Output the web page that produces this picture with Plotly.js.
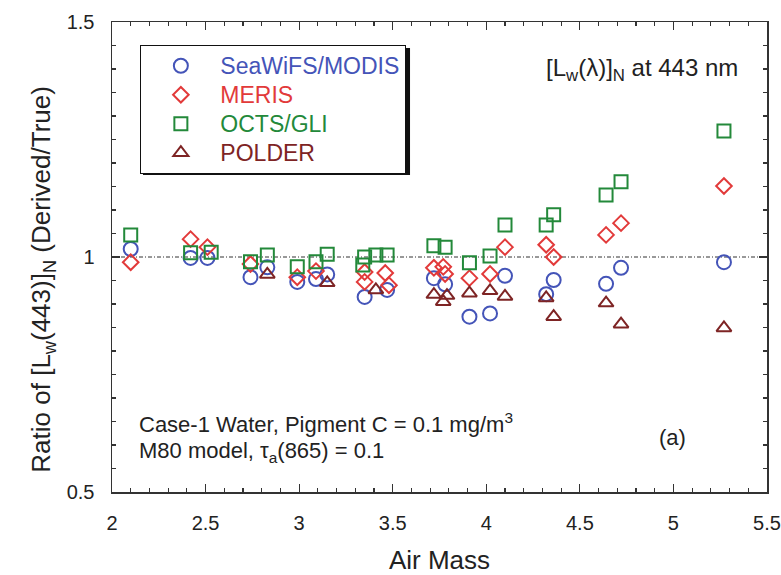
<!DOCTYPE html>
<html>
<head>
<meta charset="utf-8">
<script src="https://cdn.plot.ly/plotly-3.0.1.min.js"></script>
<style>body{margin:0;background:#fff;}#chart{width:781px;height:575px;}</style>
</head>
<body>
<div id="chart"></div>
<script>
// SeaWiFS/MODIS (blue circles)
const seawifsX = [2.10, 2.42, 2.51, 2.74, 2.83, 2.99, 3.09, 3.15, 3.35, 3.47, 3.72, 3.78, 3.91, 4.02, 4.10, 4.32, 4.36, 4.64, 4.72, 5.27];
const seawifsY = [1.017, 0.998, 0.998, 0.957, 0.978, 0.947, 0.953, 0.963, 0.915, 0.930, 0.955, 0.942, 0.873, 0.880, 0.960, 0.921, 0.951, 0.943, 0.977, 0.989];
// MERIS (red diamonds)
const merisX = [2.10, 2.42, 2.51, 2.74, 2.99, 3.09, 3.35, 3.35, 3.46, 3.48, 3.72, 3.77, 3.78, 3.91, 4.02, 4.10, 4.32, 4.36, 4.64, 4.72, 5.27];
const merisY = [0.989, 1.038, 1.021, 0.985, 0.957, 0.970, 0.968, 0.947, 0.966, 0.940, 0.977, 0.979, 0.964, 0.955, 0.964, 1.021, 1.026, 1.000, 1.047, 1.072, 1.151];
// OCTS/GLI (green squares)
const octsX = [2.10, 2.42, 2.53, 2.74, 2.83, 2.99, 3.09, 3.15, 3.34, 3.35, 3.41, 3.47, 3.72, 3.78, 3.91, 4.02, 4.10, 4.32, 4.36, 4.64, 4.72, 5.27];
const octsY = [1.047, 1.009, 1.010, 0.990, 1.004, 0.979, 0.990, 1.006, 0.983, 1.000, 1.004, 1.004, 1.024, 1.021, 0.988, 1.002, 1.068, 1.068, 1.090, 1.132, 1.160, 1.268];
// POLDER (brown triangles)
const polderX = [2.83, 3.15, 3.41, 3.72, 3.77, 3.79, 3.91, 4.02, 4.10, 4.32, 4.36, 4.64, 4.72, 5.27];
const polderY = [0.963, 0.945, 0.930, 0.920, 0.905, 0.918, 0.923, 0.928, 0.916, 0.913, 0.873, 0.902, 0.857, 0.849];

const names = ['SeaWiFS/MODIS', 'MERIS', 'OCTS/GLI', 'POLDER'];
const colors = ['#4454b8', '#e23a3a', '#23893a', '#7e2424'];
const xTicks = [2, 2.5, 3, 3.5, 4, 4.5, 5, 5.5];
const yTicks = [0.5, 1, 1.5];

const FONT = 'Liberation Sans, Arial, sans-serif';

function tr(x, y, i, symbol, size) {
  return {
    x: x, y: y, type: 'scatter', mode: 'markers',
    name: '<span style="color:' + colors[i] + ';font-size:23px">' + names[i] + '</span>',
    legendgroup: 'g' + i,
    marker: {symbol: symbol, size: size, color: colors[i], line: {color: colors[i], width: 2}}
  };
}

const data = [
  tr(seawifsX, seawifsY, 0, 'circle-open', 14),
  tr(merisX, merisY, 1, 'diamond-open', 12),
  tr(octsX, octsY, 2, 'square-open', 13),
  tr(polderX, polderY, 3, 'triangle-up-open', 13)
];

const axisCommon = {
  showline: true, linecolor: '#333', linewidth: 1.5, mirror: 'allticks',
  ticks: 'inside', ticklen: 8, tickwidth: 1.2, tickcolor: '#333',
  showgrid: false, zeroline: false,
  tickfont: {family: FONT, size: 20, color: '#222'}
};

const layout = {
  width: 781, height: 575,
  margin: {l: 112, r: 14, t: 22, b: 83},
  paper_bgcolor: '#fff', plot_bgcolor: '#fff',
  font: {family: FONT, color: '#222'},
  xaxis: Object.assign({}, axisCommon, {
    range: [2, 5.5], tickvals: xTicks, ticktext: xTicks.map(String),
    ticklabelstandoff: 12,
    minor: {ticks: 'inside', dtick: 0.1, ticklen: 4, tickcolor: '#333'},
    title: {text: 'Air Mass', font: {family: FONT, size: 26, color: '#222'}, standoff: 19}
  }),
  yaxis: Object.assign({}, axisCommon, {
    range: [0.5, 1.5], tickvals: yTicks, ticktext: yTicks.map(String),
    ticklabelstandoff: 12,
    minor: {ticks: 'inside', dtick: 0.05, ticklen: 4, tickcolor: '#333'}
  }),
  showlegend: true,
  legend: {
    x: 0.043, y: 0.951, xanchor: 'left', yanchor: 'top',
    bgcolor: '#fff', bordercolor: '#111', borderwidth: 1.2,
    font: {family: FONT, size: 20},
    traceorder: 'grouped', tracegroupgap: 0, itemwidth: 69
  },
  shapes: [
    {type: 'line', xref: 'x', yref: 'y', x0: 2, x1: 5.5, y0: 1, y1: 1,
     line: {color: '#333', width: 1, dash: '4px,2px,1px,2px'}, layer: 'below'},
    {type: 'rect', xref: 'paper', yref: 'paper', x0: 0.0473, x1: 0.455, y0: 0.6745, y1: 0.9447,
     fillcolor: '#111', line: {width: 0}, layer: 'above'}
  ],
  annotations: [
    {xref: 'paper', yref: 'paper', x: -0.106, y: 0.453, xanchor: 'center', yanchor: 'middle', showarrow: false,
     textangle: -90,
     text: 'Ratio of [L<sub>w</sub>(443)]<sub>N</sub> (Derived/True)', font: {family: FONT, size: 26, color: '#222'}},
    {xref: 'paper', yref: 'paper', x: 0.959, y: 0.898, xanchor: 'right', yanchor: 'middle', showarrow: false,
     text: '[L<sub>w</sub>(λ)]<sub>N</sub> at 443 nm', font: {family: FONT, size: 24, color: '#222'}},
    {xref: 'paper', yref: 'paper', x: 0.038, y: 0.147, xanchor: 'left', yanchor: 'middle', showarrow: false,
     text: 'Case-1 Water, Pigment C = 0.1 mg/m<sup>3</sup>', font: {family: FONT, size: 22, color: '#222'}},
    {xref: 'paper', yref: 'paper', x: 0.038, y: 0.085, xanchor: 'left', yanchor: 'middle', showarrow: false,
     text: 'M80 model, τ<sub>a</sub>(865) = 0.1', font: {family: FONT, size: 22, color: '#222'}},
    {xref: 'paper', yref: 'paper', x: 0.855, y: 0.117, xanchor: 'center', yanchor: 'middle', showarrow: false,
     text: '(a)', font: {family: FONT, size: 22, color: '#222'}}
  ]
};

Plotly.newPlot('chart', data, layout, {displayModeBar: false, staticPlot: true});
</script>
</body>
</html>
